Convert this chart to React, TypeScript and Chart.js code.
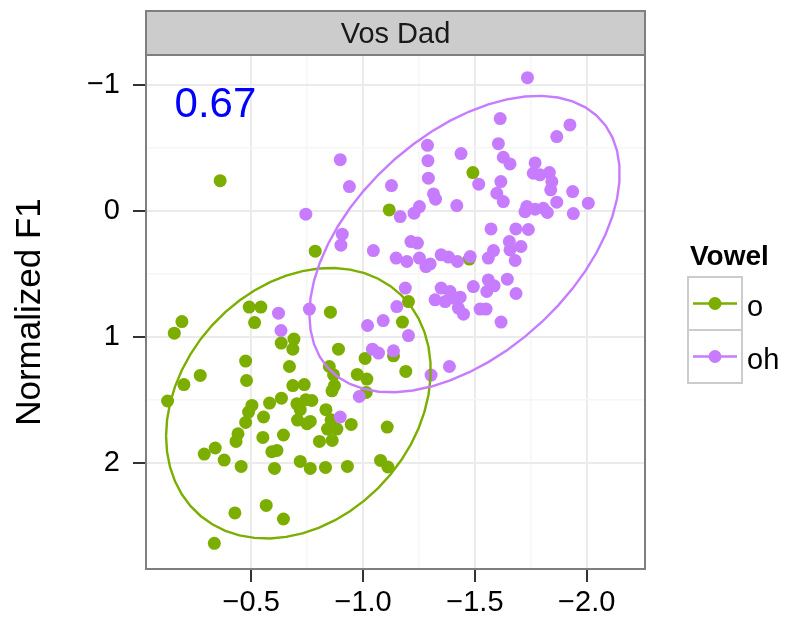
import React, { useEffect, useRef } from "react";
import { Chart, registerables } from "chart.js";

Chart.register(...registerables);

// ---------------- data ----------------
const VOWELS = ["o", "oh"];
const COLORS = ["#7CAE00", "#C77CFF"];

const O_X = [-0.361,-1.491,-1.117,-0.786,-1.475,-1.203,-0.190,-0.156,-0.491,-0.543,-0.515,-0.854,-1.176,-0.634,-0.691,-0.686,-0.890,-0.475,-0.272,-0.199,-0.479,-0.671,-0.849,-0.868,-1.009,-0.974,-1.017,-1.136,-1.191,-0.872,-0.861,-1.014,-0.686,-0.737,-0.126,-0.503,-0.582,-0.635,-0.704,-0.744,-0.771,-0.488,-0.719,-0.834,-0.555,-0.475,-0.707,-0.749,-0.764,-0.857,-0.947,-1.108,-0.841,-0.883,-0.441,-0.432,-0.552,-0.644,-0.805,-0.862,-0.290,-0.339,-0.379,-0.455,-0.592,-0.615,-0.604,-0.719,-0.764,-0.832,-0.930,-1.078,-1.111,-0.427,-0.567,-0.644,-0.335];
const O_Y = [-0.240,-0.304,-0.008,0.320,0.383,0.720,0.879,0.971,0.764,0.764,0.887,0.804,0.883,1.050,1.018,1.098,1.098,1.193,1.307,1.379,1.347,1.236,1.236,1.302,1.172,1.299,1.336,1.151,1.275,1.387,1.429,1.442,1.387,1.379,1.510,1.545,1.526,1.487,1.532,1.500,1.506,1.598,1.579,1.579,1.637,1.680,1.661,1.690,1.672,1.659,1.696,1.717,1.733,1.733,1.770,1.831,1.799,1.780,1.831,1.823,1.931,1.883,1.979,2.029,1.913,1.902,2.045,1.990,2.045,2.037,2.029,1.982,2.034,2.399,2.339,2.447,2.640];

const OH_X = [-1.735,-1.613,-1.925,-1.866,-1.605,-1.288,-1.438,-0.898,-1.290,-1.627,-1.657,-1.769,-1.761,-1.791,-1.833,-1.844,-1.839,-0.939,-1.127,-1.292,-1.517,-1.616,-1.937,-1.315,-1.324,-1.419,-1.598,-1.627,-1.866,-2.007,-1.732,-1.724,-1.769,-1.806,-1.824,-1.940,-1.252,-1.228,-1.166,-0.744,-1.572,-1.683,-1.739,-0.907,-0.901,-1.046,-1.214,-1.243,-1.654,-1.657,-1.706,-1.680,-1.583,-1.560,-1.148,-1.196,-1.252,-1.281,-1.300,-1.349,-1.382,-1.422,-1.479,-1.189,-1.349,-1.389,-1.434,-1.493,-1.560,-1.586,-1.553,-1.645,-1.684,-1.322,-1.151,-1.367,-1.404,-1.426,-1.449,-1.523,-1.550,-1.617,-0.622,-0.760,-0.633,-1.020,-1.090,-1.203,-1.042,-1.069,-1.136,-1.304,-1.386,-0.983,-0.898];
const OH_Y = [-1.058,-0.733,-0.683,-0.590,-0.534,-0.521,-0.455,-0.407,-0.399,-0.426,-0.373,-0.381,-0.299,-0.286,-0.304,-0.233,-0.167,-0.193,-0.201,-0.260,-0.212,-0.233,-0.153,-0.135,-0.093,-0.042,-0.140,-0.074,-0.069,-0.061,-0.034,0.006,-0.013,-0.021,0.013,0.021,-0.034,0.018,0.045,0.026,0.143,0.143,0.148,0.185,0.272,0.315,0.244,0.256,0.244,0.310,0.283,0.394,0.315,0.375,0.375,0.402,0.375,0.442,0.421,0.349,0.367,0.402,0.363,0.613,0.613,0.640,0.685,0.601,0.548,0.595,0.640,0.542,0.656,0.706,0.760,0.720,0.693,0.772,0.820,0.780,0.780,0.883,0.812,0.780,0.950,0.910,0.871,0.990,1.098,1.129,1.111,1.304,1.236,1.474,1.637];

const X_TICKS = [-0.5, -0.75, -1, -1.25, -1.5, -1.75, -2];
const X_LABELS = ["\u22120.5", "", "\u22121.0", "", "\u22121.5", "", "\u22122.0"];
const Y_TICKS = [-1, -0.5, 0, 0.5, 1, 1.5, 2];
const Y_LABELS = ["\u22121", "", "0", "", "1", "", "2"];
const X_LIMITS = [-2.2605, -0.0295];
const Y_LIMITS = [-1.238, 2.844];

const FACET_LABEL = "Vos Dad";
const Y_TITLE = "Normalized F1";
const LEGEND_TITLE = "Vowel";
const ANNOT_TEXT = "0.67";
const ANNOT_X = -0.34;
const ANNOT_Y = -0.84;
const ELLIPSE_LEVEL = 0.95;

const FONT = "'Liberation Sans', Arial, Helvetica, sans-serif";

// ------------- stat_ellipse (type = "t") -------------
function covTrob(xs: number[], ys: number[], nu = 5, maxit = 25, tol = 0.01) {
  const n = xs.length;
  let loc = [xs.reduce((s, v) => s + v, 0) / n, ys.reduce((s, v) => s + v, 0) / n];
  let w = new Array(n).fill(1);
  let X: number[][] = [];
  for (let iter = 0; iter < maxit; iter++) {
    const w0 = w.slice();
    X = xs.map((x, i) => [x - loc[0], ys[i] - loc[1]]);
    const sw = w.reduce((s, v) => s + v, 0);
    let a = 0, b = 0, c = 0;
    X.forEach(([dx, dy], i) => {
      a += (w[i] / sw) * dx * dx;
      b += (w[i] / sw) * dx * dy;
      c += (w[i] / sw) * dy * dy;
    });
    const det = a * c - b * b;
    const Q = X.map(([dx, dy]) => (c * dx * dx - 2 * b * dx * dy + a * dy * dy) / det);
    w = Q.map((q) => (nu + 2) / (nu + q));
    const sw2 = w.reduce((s, v) => s + v, 0);
    loc = [
      xs.reduce((s, v, i) => s + w[i] * v, 0) / sw2,
      ys.reduce((s, v, i) => s + w[i] * v, 0) / sw2,
    ];
    if (w.every((v, i) => Math.abs(v - w0[i]) < tol)) break;
  }
  let a = 0, b = 0, c = 0;
  X.forEach(([dx, dy], i) => {
    a += w[i] * dx * dx;
    b += w[i] * dx * dy;
    c += w[i] * dy * dy;
  });
  return { center: loc, cov: [a / n, b / n, c / n] };
}

function ellipsePath(xs: number[], ys: number[], level: number, segments = 51) {
  const { center, cov } = covTrob(xs, ys);
  const [a, b, c] = cov;
  const d = xs.length - 1;
  const qf = (d / 2) * (Math.pow(1 - level, -2 / d) - 1);
  const radius = Math.sqrt(2 * qf);
  const r11 = Math.sqrt(a);
  const r12 = b / r11;
  const r22 = Math.sqrt(c - r12 * r12);
  const pts: { x: number; y: number }[] = [];
  for (let k = 0; k <= segments; k++) {
    const t = (k * 2 * Math.PI) / segments;
    const ct = Math.cos(t), st = Math.sin(t);
    pts.push({
      x: center[0] + radius * ct * r11,
      y: center[1] + radius * (ct * r12 + st * r22),
    });
  }
  return pts;
}

const isHalf = (v: number) => Math.abs(v * 2 - Math.round(v * 2)) < 1e-6;
const isWhole = (v: number) => Math.abs(v - Math.round(v)) < 1e-6;
const findLabel = (vals: number[], labels: string[], v: number) => {
  const i = vals.findIndex((t) => Math.abs(t - v) < 1e-6);
  return i >= 0 ? labels[i] : "";
};

const decorPlugin = {
  id: "decor",
  afterDraw(chart: any) {
    const { ctx, chartArea: a, scales } = chart;
    ctx.save();
    // panel border
    ctx.strokeStyle = "#7F7F7F";
    ctx.lineWidth = 2;
    ctx.strokeRect(a.left, a.top, a.right - a.left, a.bottom - a.top);
    // strip
    const stripTop = 11;
    ctx.fillStyle = "#CCCCCC";
    ctx.fillRect(a.left, stripTop, a.right - a.left, a.top - stripTop);
    ctx.strokeRect(a.left, stripTop, a.right - a.left, a.top - stripTop);
    ctx.fillStyle = "#1A1A1A";
    ctx.font = `29px ${FONT}`;
    ctx.textAlign = "center";
    ctx.textBaseline = "alphabetic";
    ctx.fillText(FACET_LABEL, (a.left + a.right) / 2, 43);
    // y title
    ctx.save();
    ctx.translate(39.5, (a.top + a.bottom) / 2);
    ctx.rotate(-Math.PI / 2);
    ctx.font = `35px ${FONT}`;
    ctx.fillStyle = "#000";
    ctx.textAlign = "center";
    ctx.textBaseline = "alphabetic";
    ctx.fillText(Y_TITLE, 0, 0);
    ctx.restore();
    // annotation
    ctx.font = `42px ${FONT}`;
    ctx.fillStyle = "#0000FF";
    ctx.textAlign = "center";
    ctx.textBaseline = "middle";
    ctx.fillText(ANNOT_TEXT, scales.x.getPixelForValue(ANNOT_X), scales.y.getPixelForValue(ANNOT_Y));
    // legend
    ctx.fillStyle = "#000";
    ctx.font = `bold 28px ${FONT}`;
    ctx.textAlign = "left";
    ctx.textBaseline = "alphabetic";
    ctx.fillText(LEGEND_TITLE, 690, 265);
    VOWELS.forEach((v, i) => {
      const top = 277 + i * 53;
      ctx.fillStyle = "#FFFFFF";
      ctx.fillRect(688, top, 54, 53);
      ctx.strokeStyle = "#CCCCCC";
      ctx.lineWidth = 2;
      ctx.strokeRect(688, top, 54, 53);
      const cy = top + 26.5;
      ctx.strokeStyle = COLORS[i];
      ctx.lineWidth = 2.5;
      ctx.beginPath();
      ctx.moveTo(693, cy);
      ctx.lineTo(737, cy);
      ctx.stroke();
      ctx.fillStyle = COLORS[i];
      ctx.beginPath();
      ctx.arc(715, cy, 6.5, 0, Math.PI * 2);
      ctx.fill();
      ctx.fillStyle = "#000";
      ctx.font = `29px ${FONT}`;
      ctx.fillText(v, 747, cy + 12);
    });
    ctx.restore();
  },
};

export default function App() {
  const ref = useRef<HTMLCanvasElement | null>(null);
  useEffect(() => {
    document.body.style.margin = "0";
    if (!ref.current) return;
    const pointsO = O_X.map((x, i) => ({ x, y: O_Y[i] }));
    const pointsOH = OH_X.map((x, i) => ({ x, y: OH_Y[i] }));
    const major = (ctx: any) =>
      ctx.tick && (ctx.scale.axis === "x" ? isHalf(ctx.tick.value) : isWhole(ctx.tick.value));
    const chart = new Chart(ref.current, {
      type: "scatter",
      data: {
        datasets: [
          {
            label: VOWELS[0],
            data: pointsO,
            backgroundColor: COLORS[0],
            borderColor: COLORS[0],
            pointRadius: 6.5,
            pointBorderWidth: 0,
            order: 3,
          },
          {
            label: VOWELS[1],
            data: pointsOH,
            backgroundColor: COLORS[1],
            borderColor: COLORS[1],
            pointRadius: 6.5,
            pointBorderWidth: 0,
            order: 2,
          },
          {
            label: VOWELS[0] + " ellipse",
            data: ellipsePath(O_X, O_Y, ELLIPSE_LEVEL),
            showLine: true,
            pointRadius: 0,
            borderColor: COLORS[0],
            borderWidth: 2.4,
            fill: false,
            tension: 0,
            order: 1,
          },
          {
            label: VOWELS[1] + " ellipse",
            data: ellipsePath(OH_X, OH_Y, ELLIPSE_LEVEL),
            showLine: true,
            pointRadius: 0,
            borderColor: COLORS[1],
            borderWidth: 2.4,
            fill: false,
            tension: 0,
            order: 0,
          },
        ] as any,
      },
      options: {
        responsive: false,
        animation: false,
        events: [],
        layout: { padding: { top: 55, right: 148, left: 0, bottom: 0 } },
        plugins: { legend: { display: false }, tooltip: { enabled: false }, title: { display: false } },
        scales: {
          x: {
            type: "linear",
            reverse: true,
            min: X_LIMITS[0],
            max: X_LIMITS[1],
            afterBuildTicks: (scale: any) => {
              scale.ticks = X_TICKS.map((v) => ({ value: v }));
            },
            afterFit: (scale: any) => {
              scale.height = 61;
            },
            ticks: {
              autoSkip: false,
              maxRotation: 0,
              padding: 4,
              color: "#000",
              font: { size: 29, family: FONT },
              callback: (v: any) => findLabel(X_TICKS, X_LABELS, Number(v)),
            },
            grid: {
              color: (ctx: any) => (major(ctx) ? "#EBEBEB" : "#F6F6F6"),
              lineWidth: (ctx: any) => (major(ctx) ? 2 : 1.5),
              tickColor: (ctx: any) => (major(ctx) ? "#333333" : "rgba(0,0,0,0)"),
              tickWidth: 2,
              tickLength: 13,
              drawTicks: true,
            },
            border: { display: false },
          },
          y: {
            type: "linear",
            reverse: true,
            min: Y_LIMITS[0],
            max: Y_LIMITS[1],
            afterBuildTicks: (scale: any) => {
              scale.ticks = Y_TICKS.map((v) => ({ value: v }));
            },
            afterFit: (scale: any) => {
              scale.width = 146;
            },
            ticks: {
              autoSkip: false,
              padding: 13,
              color: "#000",
              font: { size: 29, family: FONT },
              callback: (v: any) => findLabel(Y_TICKS, Y_LABELS, Number(v)),
            },
            grid: {
              color: (ctx: any) => (major(ctx) ? "#EBEBEB" : "#F6F6F6"),
              lineWidth: (ctx: any) => (major(ctx) ? 2 : 1.5),
              tickColor: (ctx: any) => (major(ctx) ? "#333333" : "rgba(0,0,0,0)"),
              tickWidth: 2,
              tickLength: 13,
              drawTicks: true,
            },
            border: { display: false },
          },
        },
      },
      plugins: [decorPlugin],
    } as any);
    return () => chart.destroy();
  }, []);
  return (
    <div style={{ width: 793, height: 630, background: "#fff" }}>
      <canvas ref={ref} width={793} height={630} style={{ display: "block" }} />
    </div>
  );
}
